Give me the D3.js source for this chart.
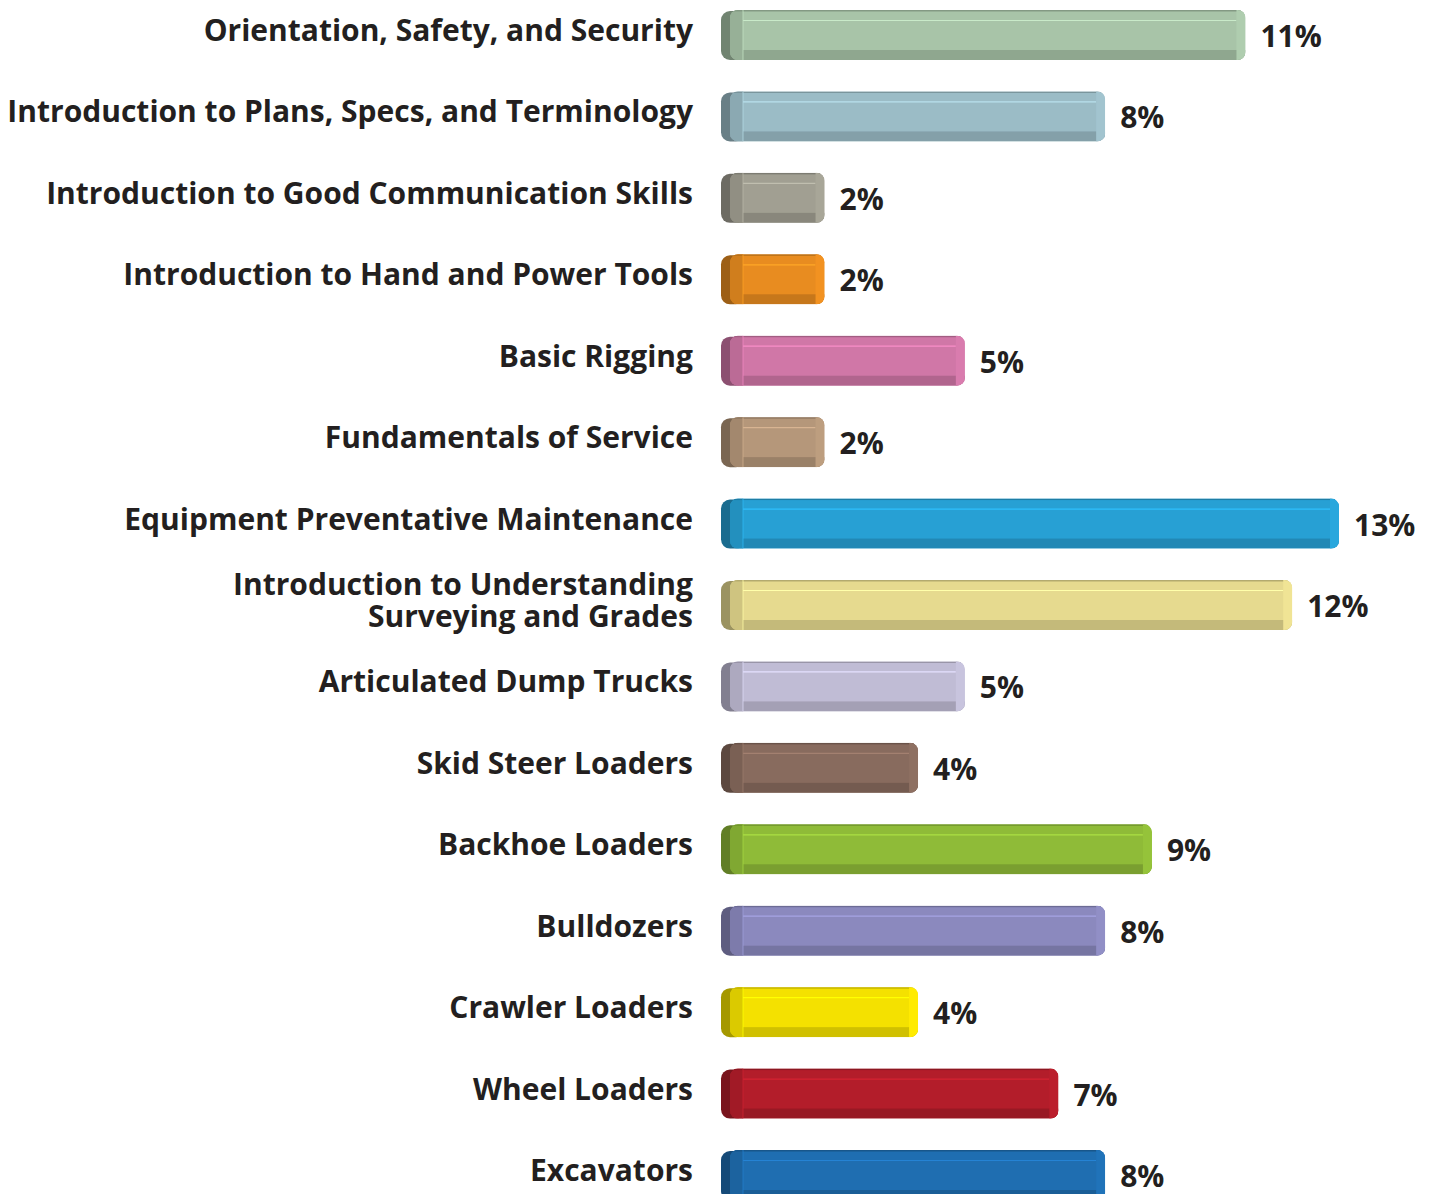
<!DOCTYPE html>
<html lang="en">
<head>
  <meta charset="UTF-8">
  <title>Course share by module</title>
  <script src="https://d3js.org/d3.v7.min.js"></script>
  <style>
    body { margin: 0; background: #fff; }
    .label, .value {
      font-family: "Open Sans", Lato, sans-serif;
      font-weight: bold;
      fill: #231f20;
    }
  </style>
</head>
<body>
  <svg width="1443" height="1194"></svg>
  <script>
    // Data
    const modules = [
      "Orientation, Safety, and Security",
      "Introduction to Plans, Specs, and Terminology",
      "Introduction to Good Communication Skills",
      "Introduction to Hand and Power Tools",
      "Basic Rigging",
      "Fundamentals of Service",
      "Equipment Preventative Maintenance",
      "Introduction to Understanding\nSurveying and Grades",
      "Articulated Dump Trucks",
      "Skid Steer Loaders",
      "Backhoe Loaders",
      "Bulldozers",
      "Crawler Loaders",
      "Wheel Loaders",
      "Excavators"
    ];
    const percents = [11, 8, 2, 2, 5, 2, 13, 12, 5, 4, 9, 8, 4, 7, 8];
    const barColors = [
      "#a8c4a8", "#9bbcc6", "#a19f92", "#e88c20", "#d077a7",
      "#b5977a", "#27a0d4", "#e6da8f", "#c0bcd5", "#886b5e",
      "#8fbb38", "#8b89be", "#f4e100", "#b31d2a", "#1f6eb1"
    ];

    const svg = d3.select("svg");
    const barLeft = 721, barH = 50, labelRight = 693;

    const x = d3.scaleLinear().domain([0, 13]).range([731, 1339]);
    const y = d3.scalePoint().domain(modules).range([35, 1175]);

    const defs = svg.append("defs");

    const rows = svg.selectAll("g.row")
      .data(modules.map((m, i) => ({ name: m, value: percents[i], color: barColors[i], i: i })))
      .join("g")
      .attr("class", "row");

    rows.each(function (d) {
      const g = d3.select(this);
      const c = d3.color(d.color);
      const top = y(d.name) - barH / 2;
      const xe = x(d.value);
      const bodyX = barLeft + 9;

      defs.append("clipPath").attr("id", "clip" + d.i)
        .append("rect")
        .attr("x", bodyX).attr("y", top)
        .attr("width", xe - bodyX).attr("height", barH)
        .attr("rx", 8);

      // dark left cap
      g.append("rect")
        .attr("x", barLeft).attr("y", top + 1)
        .attr("width", 24).attr("height", barH - 1)
        .attr("rx", 9)
        .attr("fill", c.darker(1.1));

      const body = g.append("g").attr("clip-path", "url(#clip" + d.i + ")");
      body.append("rect")
        .attr("x", bodyX).attr("y", top)
        .attr("width", xe - bodyX).attr("height", barH)
        .attr("fill", c);
      // bottom darker band
      body.append("rect")
        .attr("x", bodyX).attr("y", top + barH - 10)
        .attr("width", xe - bodyX).attr("height", 10)
        .attr("fill", c.darker(0.45));
      // inner left facet
      body.append("rect")
        .attr("x", bodyX).attr("y", top)
        .attr("width", 13).attr("height", barH)
        .attr("fill", c.darker(0.3));
      // top edge
      body.append("rect")
        .attr("x", bodyX).attr("y", top)
        .attr("width", xe - bodyX).attr("height", 1.5)
        .attr("fill", c.darker(0.7));
      // top highlight
      body.append("line")
        .attr("x1", bodyX + 13).attr("x2", xe - 9)
        .attr("y1", top + 10.5).attr("y2", top + 10.5)
        .attr("stroke", c.brighter(0.5)).attr("stroke-width", 1.2);
      // right end facet
      body.append("rect")
        .attr("x", xe - 9).attr("y", top)
        .attr("width", 9).attr("height", barH)
        .attr("fill", c.brighter(0.12));
      body.append("line")
        .attr("x1", bodyX + 13).attr("x2", bodyX + 13)
        .attr("y1", top).attr("y2", top + barH)
        .attr("stroke", c.brighter(0.4)).attr("stroke-width", 0.8);

      // category label
      const lines = d.name.split("\n");
      const t = g.append("text")
        .attr("class", "label")
        .attr("text-anchor", "end")
        .attr("font-size", 30)
        .attr("x", labelRight);
      lines.forEach((ln, k) => {
        t.append("tspan")
          .attr("x", labelRight)
          .attr("y", y(d.name) + 6 + (k - (lines.length - 1) / 2) * 32)
          .text(ln);
      });

      // value label
      g.append("text")
        .attr("class", "value")
        .attr("font-size", 30)
        .attr("x", xe + 15)
        .attr("y", y(d.name) + 12)
        .text(d.value + "%");
    });
  </script>
</body>
</html>
